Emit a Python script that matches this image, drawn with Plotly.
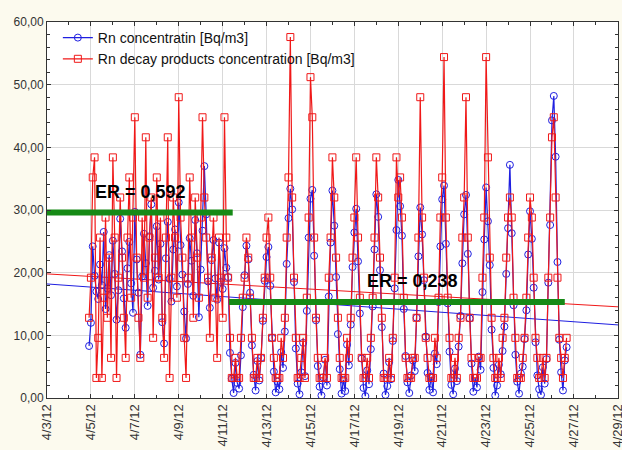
import pandas as pd
import plotly.graph_objects as go

# ---- data (2-hour steps) ----
start_time = "2012-04-04 22:00"
step = "2h"

rn_conc = [
    8.3,
    12.0, 24.2, 19.5, 17.0, 15.8, 21.3, 18.0, 26.5, 14.2, 17.5, 22.8, 16.4,
    25.1, 19.8, 12.5, 17.2, 28.6, 23.4, 15.9, 11.2, 20.7, 24.9, 18.3, 13.6,
    29.7, 22.1, 16.8, 6.9, 19.4, 26.2, 21.5, 14.7, 25.8, 30.9, 17.6, 20.3,
    27.4, 18.9, 24.6, 12.1, 8.7, 22.3, 28.1, 19.0, 15.4, 23.7, 26.9, 17.8,
    31.2, 24.4, 19.7, 13.8, 9.5, 18.2, 25.5, 21.9, 16.3, 28.4, 23.1, 12.9,
    20.5, 26.7, 37.0, 29.3, 18.6, 14.4, 22.0, 25.2, 19.1, 15.7, 24.8, 18.5,
    17.4, 23.9, 20.8, 19.3,
    7.2, 3.1, 0.8, 5.6, 2.4, 1.5, 6.8, 14.5,
    19.6, 24.3, 22.1, 16.8, 8.4, 3.7, 1.2, 5.9, 2.8, 6.4, 12.3, 18.7,
    22.5, 24.1, 17.9, 9.6, 4.2, 0.9, 2.6, 1.4, 7.3, 4.8, 10.6, 21.4,
    28.7, 33.4, 30.1, 18.5, 7.9, 2.3, 0.6, 4.1, 8.8, 3.5, 13.9, 25.6,
    31.8, 33.2, 22.7, 12.4, 5.1, 1.8, 0.4, 3.3, 6.1, 2.0, 16.2, 24.8,
    33.1, 27.5, 19.3, 10.2, 4.6, 0.7, 2.9, 1.1, 8.5, 5.2, 11.7, 20.9,
    26.4, 30.2, 21.8, 13.5, 6.3, 1.6, 0.3, 4.4, 2.2, 7.8, 14.6, 23.7,
    32.5, 28.9, 20.4, 11.3, 3.9, 0.5, 1.9, 5.7, 3.0, 9.1, 17.5, 26.8,
    34.8, 30.6, 25.9, 14.2, 6.7, 2.5, 0.8, 3.6, 6.0, 4.3, 12.8, 22.6,
    30.4, 26.1, 18.8, 9.8, 4.0, 1.3, 3.4, 0.9, 7.1, 5.4, 15.3, 24.2,
    31.7, 33.9, 24.6, 15.1, 7.4, 2.1, 0.6, 4.7, 2.7, 8.2, 13.1, 21.5,
    29.3, 32.4, 23.0, 12.7, 5.5, 1.0, 3.2, 1.7, 6.6, 4.5, 16.9, 25.3,
    33.6, 28.2, 21.2, 10.9, 4.8, 0.4, 2.0, 5.3, 3.8, 7.5, 11.4, 19.8,
    27.1, 37.2, 26.3, 14.8, 6.9, 2.6, 0.7, 3.9, 5.0, 9.4, 14.0, 22.9,
    29.8, 25.4, 17.6, 8.9, 3.6, 1.4, 0.5, 4.9, 2.3, 6.2, 18.4, 27.6,
    44.3, 48.2, 38.5, 21.7, 9.3, 4.1, 1.2, 6.0, 8.1,
]

rdp_conc = [
    12.8,
    19.2, 35.2, 38.4, 3.2, 9.6, 25.6, 3.2, 16.0, 28.8, 12.8, 22.4, 6.4,
    38.4, 25.6, 3.2, 19.2, 32.0, 22.4, 12.8, 6.4, 25.6, 35.2, 16.0, 28.8,
    44.8, 22.4, 12.8, 6.4, 28.8, 19.2, 41.6, 16.0, 25.6, 32.0, 9.6, 22.4,
    35.2, 19.2, 28.8, 12.8, 6.4, 25.6, 41.6, 3.2, 19.2, 32.0, 25.6, 16.0,
    48.0, 28.8, 22.4, 9.6, 3.2, 19.2, 35.2, 25.6, 12.8, 32.0, 22.4, 16.0,
    28.8, 44.8, 32.0, 25.6, 19.2, 9.6, 22.4, 28.8, 16.0, 6.4, 25.6, 19.2,
    12.8, 44.8, 25.6, 19.2,
    9.6, 3.2, 3.2, 6.4, 3.2, 3.2, 9.6, 16.0,
    19.2, 25.6, 22.4, 16.0, 9.6, 3.2, 3.2, 6.4, 3.2, 6.4, 12.8, 19.2,
    25.6, 28.8, 19.2, 9.6, 6.4, 3.2, 3.2, 3.2, 9.6, 6.4, 12.8, 25.6,
    35.2, 57.6, 32.0, 19.2, 9.6, 3.2, 3.2, 6.4, 9.6, 3.2, 16.0, 28.8,
    51.2, 44.8, 25.6, 12.8, 6.4, 3.2, 3.2, 3.2, 6.4, 3.2, 19.2, 25.6,
    38.4, 32.0, 22.4, 12.8, 6.4, 3.2, 3.2, 3.2, 9.6, 6.4, 12.8, 22.4,
    28.8, 38.4, 25.6, 16.0, 6.4, 3.2, 3.2, 6.4, 3.2, 9.6, 16.0, 25.6,
    38.4, 32.0, 22.4, 12.8, 3.2, 3.2, 3.2, 6.4, 3.2, 9.6, 19.2, 38.4,
    32.0, 35.2, 28.8, 16.0, 6.4, 3.2, 3.2, 3.2, 6.4, 6.4, 12.8, 25.6,
    48.0, 28.8, 19.2, 9.6, 6.4, 3.2, 3.2, 3.2, 9.6, 6.4, 16.0, 28.8,
    35.2, 54.4, 28.8, 16.0, 9.6, 3.2, 3.2, 6.4, 3.2, 9.6, 12.8, 25.6,
    32.0, 48.0, 25.6, 12.8, 6.4, 3.2, 3.2, 3.2, 6.4, 6.4, 19.2, 28.8,
    54.4, 38.4, 22.4, 12.8, 6.4, 3.2, 3.2, 6.4, 3.2, 9.6, 12.8, 22.4,
    28.8, 32.0, 28.8, 16.0, 9.6, 3.2, 3.2, 3.2, 6.4, 9.6, 16.0, 25.6,
    32.0, 28.8, 19.2, 9.6, 6.4, 3.2, 3.2, 6.4, 3.2, 6.4, 19.2, 28.8,
    41.6, 44.8, 32.0, 19.2, 9.6, 6.4, 3.2, 6.4, 9.6,
]

# linear trend lines (end values)
trend_dates = ["2012-04-03", "2012-04-29 06:00"]
rn_trend = [18.2, 11.6]
rdp_trend = [19.8, 14.5]

# equilibrium ratio bars
er_labels = ["ER = 0,592", "ER = 0,238"]
er_levels = [29.6, 15.3]
er_start = ["2012-04-03 00:00", "2012-04-11 07:00"]
er_end = ["2012-04-11 11:00", "2012-04-26 14:00"]
er_label_x = ["2012-04-07 06:00", "2012-04-19 15:00"]
er_label_y = [32.9, 18.6]

series_names = ["Rn concentratin [Bq/m3]", "Rn decay products concentration [Bq/m3]"]

times = pd.date_range(start=start_time, periods=len(rn_conc), freq=step)

BLUE = "#1f1fe0"
RED = "#f01818"
GREEN = "#168a16"
FONT = "Liberation Sans, Arial, sans-serif"

fig = go.Figure()

# trend lines (behind)
fig.add_trace(go.Scatter(x=trend_dates, y=rdp_trend, mode="lines",
                         line=dict(color=RED, width=1), showlegend=False, hoverinfo="skip"))
fig.add_trace(go.Scatter(x=trend_dates, y=rn_trend, mode="lines",
                         line=dict(color=BLUE, width=1), showlegend=False, hoverinfo="skip"))

fig.add_trace(go.Scatter(x=times, y=rn_conc, mode="lines+markers", name=series_names[0],
                         line=dict(color=BLUE, width=1.2),
                         marker=dict(symbol="circle-open", size=7, color=BLUE, line=dict(width=1))))
fig.add_trace(go.Scatter(x=times, y=rdp_conc, mode="lines+markers", name=series_names[1],
                         line=dict(color=RED, width=1.2),
                         marker=dict(symbol="square-open", size=7, color=RED, line=dict(width=1))))

for i in range(len(er_levels)):
    fig.add_trace(go.Scatter(x=[er_start[i], er_end[i]], y=[er_levels[i], er_levels[i]],
                             mode="lines", line=dict(color=GREEN, width=6),
                             showlegend=False, hoverinfo="skip"))
    fig.add_annotation(x=er_label_x[i], y=er_label_y[i], text="<b>%s</b>" % er_labels[i],
                       showarrow=False, font=dict(size=18, color="black", family=FONT))

axis_common = dict(showline=True, linecolor="#333", linewidth=1, mirror="ticks",
                   ticks="inside", ticklen=4, tickcolor="#333", automargin=False,
                   showgrid=True, gridcolor="#d9d9d9", gridwidth=1, zeroline=False,
                   ticklabeloverflow="allow")

fig.update_xaxes(**axis_common, type="date", range=["2012-04-03", "2012-04-29 00:10"],
                 tick0="2012-04-03", dtick=2 * 86400000, tickformat="%-m/%-d/%y",
                 tickangle=-90, tickfont=dict(size=13, color="#333", family=FONT),
                 minor=dict(dtick=86400000, ticks="inside", ticklen=3, tickcolor="#333", showgrid=False))
fig.update_yaxes(**axis_common, range=[0, 60], dtick=10, tickformat=".2f",
                 tickfont=dict(size=12, color="#333", family=FONT),
                 minor=dict(dtick=2, ticks="inside", ticklen=3, tickcolor="#333", showgrid=False))

fig.update_layout(
    width=622, height=450,
    margin=dict(l=47, r=4, t=22, b=52),
    paper_bgcolor="#fcfaee",
    plot_bgcolor="white",
    separators=", ",
    font=dict(family=FONT, color="#222"),
    legend=dict(x=0.019, y=1.0, xanchor="left", yanchor="top",
                bgcolor="rgba(0,0,0,0)", font=dict(size=14, color="#111"),
                tracegroupgap=0, itemwidth=30),
)

fig.write_html("out.html",
               config={"displayModeBar": False},
               post_script="document.body.style.margin='0px';"
                           "document.body.style.overflow='hidden';"
                           "document.body.style.background='#fcfaee';")
